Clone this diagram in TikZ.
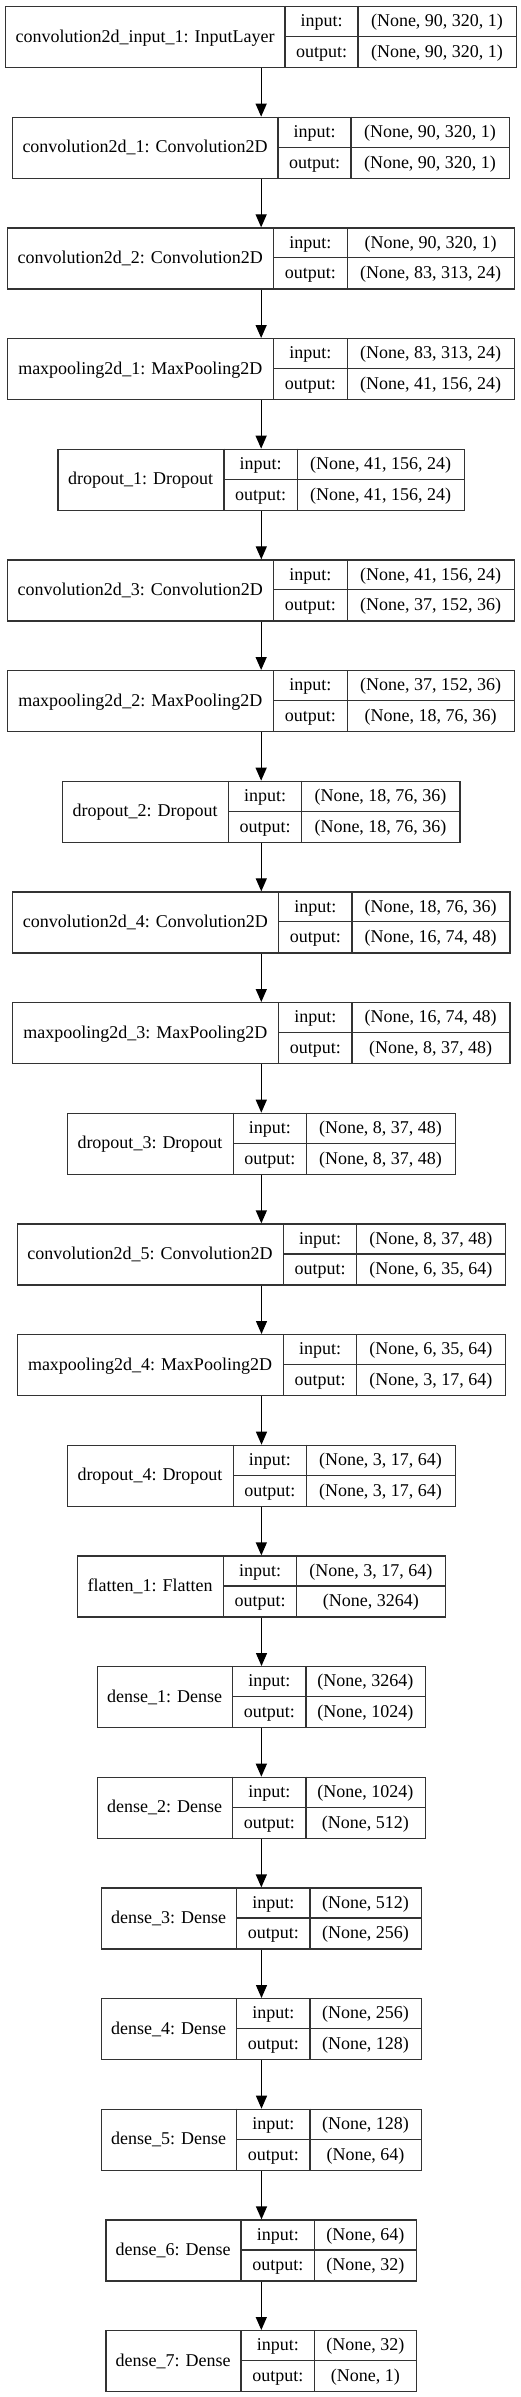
\documentclass[tikz,border=0pt]{standalone}
\usepackage{fontspec}
\setmainfont{Liberation Serif}
\usetikzlibrary{arrows.meta}
\tikzset{
  recbox/.style={draw=boxc, line width=1.3pt, rectangle, inner sep=0pt, minimum height=61pt},
  recline/.style={draw=boxc, line width=1.3pt},
  txt/.style={inner sep=0pt, anchor=base, font=\fontsize{18pt}{20pt}\selectfont},
  arr/.style={draw=black, line width=1.3pt, -{Triangle[length=13pt,width=11pt]}}
}
\definecolor{boxc}{HTML}{333333}
\newcommand\kerlayer[8]{%
  \pgfmathsetmacro\klyt{-(6+110.667*#1)}%
  \pgfmathsetmacro\klym{\klyt-30.5}%
  \pgfmathsetmacro\klyb{\klyt-61}%
  \pgfmathsetmacro\klyl{\klym-5.7}%
  \pgfmathsetmacro\klyi{\klyt-15.25-5.7}%
  \pgfmathsetmacro\klyo{\klyt-45.75-5.7}%
  \pgfmathsetmacro\klw{#5-#2}%
  \pgfmathsetmacro\klxa{(#2+#3)/2}%
  \pgfmathsetmacro\klxb{(#3+#4)/2}%
  \pgfmathsetmacro\klxc{(#4+#5)/2}%
  \node[recbox, minimum width=\klw pt, anchor=north west] (box#1) at (#2pt,\klyt pt) {};
  \draw[recline] (#3pt,\klyt pt) -- (#3pt,\klyb pt) (#4pt,\klyt pt) -- (#4pt,\klyb pt) (#3pt,\klym pt) -- (#5pt,\klym pt);
  \node[txt] (lab#1) at (\klxa pt,\klyl pt) {#6};
  \node[txt] (inl#1) at (\klxb pt,\klyi pt) {input:};
  \node[txt] (outl#1) at (\klxb pt,\klyo pt) {output:};
  \node[txt] (ins#1) at (\klxc pt,\klyi pt) {#7};
  \node[txt] (outs#1) at (\klxc pt,\klyo pt) {#8};
}
\begin{document}
\begin{tikzpicture}
\fill[white] (0pt,0pt) rectangle (521pt,-2397pt);
\useasboundingbox (0pt,0pt) rectangle (521pt,-2397pt);
\kerlayer{0}{5}{285}{358}{516}{convolution2d\_input\_1: InputLayer}{(None, 90, 320, 1)}{(None, 90, 320, 1)}
\kerlayer{1}{12}{278}{351}{509}{convolution2d\_1: Convolution2D}{(None, 90, 320, 1)}{(None, 90, 320, 1)}
\kerlayer{2}{7}{273.5}{347.3}{514}{convolution2d\_2: Convolution2D}{(None, 90, 320, 1)}{(None, 83, 313, 24)}
\kerlayer{3}{7}{273.5}{347.3}{514}{maxpooling2d\_1: MaxPooling2D}{(None, 83, 313, 24)}{(None, 41, 156, 24)}
\kerlayer{4}{57.3}{224}{297.3}{464}{dropout\_1: Dropout}{(None, 41, 156, 24)}{(None, 41, 156, 24)}
\kerlayer{5}{7}{273.5}{347.3}{514}{convolution2d\_3: Convolution2D}{(None, 41, 156, 24)}{(None, 37, 152, 36)}
\kerlayer{6}{7}{273.5}{347.3}{514}{maxpooling2d\_2: MaxPooling2D}{(None, 37, 152, 36)}{(None, 18, 76, 36)}
\kerlayer{7}{62}{228.3}{301.7}{459.3}{dropout\_2: Dropout}{(None, 18, 76, 36)}{(None, 18, 76, 36)}
\kerlayer{8}{12}{278.7}{352}{509.3}{convolution2d\_4: Convolution2D}{(None, 18, 76, 36)}{(None, 16, 74, 48)}
\kerlayer{9}{12}{278.7}{352}{509.3}{maxpooling2d\_3: MaxPooling2D}{(None, 16, 74, 48)}{(None, 8, 37, 48)}
\kerlayer{10}{66.7}{233.3}{306.3}{454.7}{dropout\_3: Dropout}{(None, 8, 37, 48)}{(None, 8, 37, 48)}
\kerlayer{11}{16.7}{283.3}{356.7}{505}{convolution2d\_5: Convolution2D}{(None, 8, 37, 48)}{(None, 6, 35, 64)}
\kerlayer{12}{16.7}{283.3}{356.7}{505}{maxpooling2d\_4: MaxPooling2D}{(None, 6, 35, 64)}{(None, 3, 17, 64)}
\kerlayer{13}{66.7}{233.3}{306.3}{454.7}{dropout\_4: Dropout}{(None, 3, 17, 64)}{(None, 3, 17, 64)}
\kerlayer{14}{76.7}{223.3}{296.7}{445}{flatten\_1: Flatten}{(None, 3, 17, 64)}{(None, 3264)}
\kerlayer{15}{96.7}{232.7}{306}{424.7}{dense\_1: Dense}{(None, 3264)}{(None, 1024)}
\kerlayer{16}{96.7}{232.7}{306}{424.7}{dense\_2: Dense}{(None, 1024)}{(None, 512)}
\kerlayer{17}{100.7}{236.7}{310}{421}{dense\_3: Dense}{(None, 512)}{(None, 256)}
\kerlayer{18}{100.7}{236.7}{310}{421}{dense\_4: Dense}{(None, 256)}{(None, 128)}
\kerlayer{19}{100.7}{236.7}{310}{421}{dense\_5: Dense}{(None, 128)}{(None, 64)}
\kerlayer{20}{105.3}{241}{314.7}{416}{dense\_6: Dense}{(None, 64)}{(None, 32)}
\kerlayer{21}{105.3}{241}{314.7}{416}{dense\_7: Dense}{(None, 32)}{(None, 1)}
\foreach \i [evaluate=\i as \j using int(\i+1)] in {0,...,20}
  \draw[arr] (box\i.south) -- (box\i.south |- box\j.north);
\end{tikzpicture}
\end{document}
